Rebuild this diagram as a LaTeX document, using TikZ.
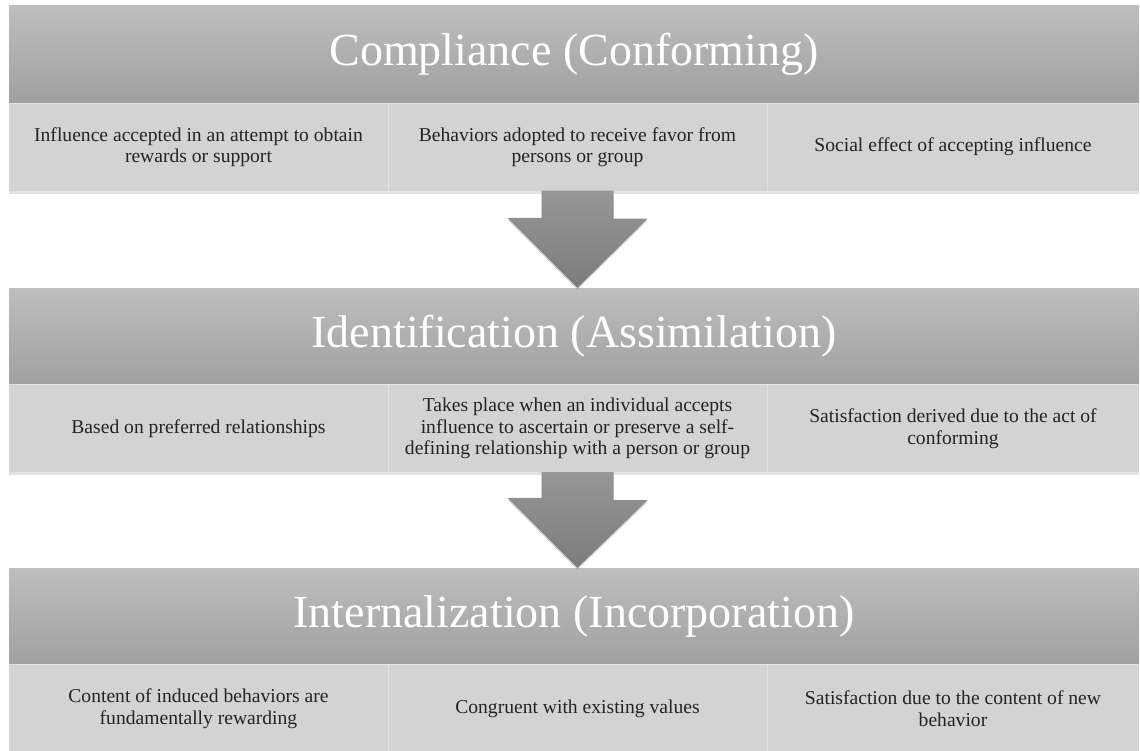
\documentclass[tikz,border=0pt]{standalone}
\usepackage{fontspec}
\setmainfont{Liberation Serif}
\usetikzlibrary{calc,shadows}
\definecolor{headtop}{RGB}{190,190,190}
\definecolor{headbot}{RGB}{160,160,160}
\definecolor{cellfill}{RGB}{211,211,211}
\definecolor{cellline}{RGB}{226,226,226}
\definecolor{arrowtop}{RGB}{150,150,150}
\definecolor{arrowbot}{RGB}{124,124,124}
\definecolor{inkgray}{RGB}{35,35,35}

\begin{document}
\begin{tikzpicture}[
    x=1pt, y=-1pt,
    stage/.style={rectangle, inner sep=0pt, minimum width=1130pt, minimum height=97pt,
                  top color=headtop, bottom color=headbot, text=white,
                  font=\fontsize{46}{50}\selectfont,
                  drop shadow={shadow xshift=0pt, shadow yshift=-3pt, opacity=0.25}},
    trait/.style={rectangle, inner sep=0pt, minimum width=379pt, minimum height=87pt,
                  fill=cellfill, text=inkgray, align=center,
                  font=\fontsize{19.6}{21.5}\selectfont,
                  drop shadow={shadow xshift=0pt, shadow yshift=-3pt, opacity=0.22}},
    lasttrait/.style={trait, minimum width=372pt},
    divider/.style={draw=cellline, line width=0.8pt},
    flow/.style={top color=arrowtop, bottom color=arrowbot, draw=none,
                 drop shadow={shadow xshift=0pt, shadow yshift=-2pt, opacity=0.3}}
]
\useasboundingbox (0,0) rectangle (1140,750);

% Compliance
\node[stage] (comply) at (574, 54) {Compliance (Conforming)};
\node[trait] (comply1) at (198.5, 147) {Influence accepted in an attempt to obtain\\rewards or support};
\node[trait] (comply2) at (577.5, 147) {Behaviors adopted to receive favor from\\persons or group};
\node[lasttrait] (comply3) at (953, 147) {Social effect of accepting influence};

% Identification
\node[stage] (ident) at (574, 336.5) {Identification (Assimilation)};
\node[trait] (ident1) at (198.5, 428.5) {Based on preferred relationships};
\node[trait] (ident2) at (577.5, 428.5) {Takes place when an individual accepts\\influence to ascertain or preserve a self-\\defining relationship with a person or group};
\node[lasttrait] (ident3) at (953, 428.5) {Satisfaction derived due to the act of\\conforming};

% Internalization
\node[stage] (intern) at (574, 616.5) {Internalization (Incorporation)};
\node[trait] (intern1) at (198.5, 708.5) {Content of induced behaviors are\\fundamentally rewarding};
\node[trait] (intern2) at (577.5, 708.5) {Congruent with existing values};
\node[lasttrait] (intern3) at (953, 708.5) {Satisfaction due to the content of new\\behavior};

% thin lines between the cells
\foreach \row in {comply, ident, intern} {
    \draw[divider] (\row1.north east) -- (\row1.south east);
    \draw[divider] (\row2.north east) -- (\row2.south east);
    \draw[divider] (\row1.north west) -- (\row3.north east);
}

% Block arrows between stages
\path[flow] ($(comply2.south)+(-36,0)$) -- ++(72,0) -- ++(0,28) -- ++(34,0)
    -- (comply2.south |- ident.north) -- ++(-70,-70) -- ++(34,0) -- cycle;
\path[flow] ($(ident2.south)+(-36,0)$) -- ++(72,0) -- ++(0,28) -- ++(34,0)
    -- (ident2.south |- intern.north) -- ++(-70,-70) -- ++(34,0) -- cycle;

\end{tikzpicture}
\end{document}
